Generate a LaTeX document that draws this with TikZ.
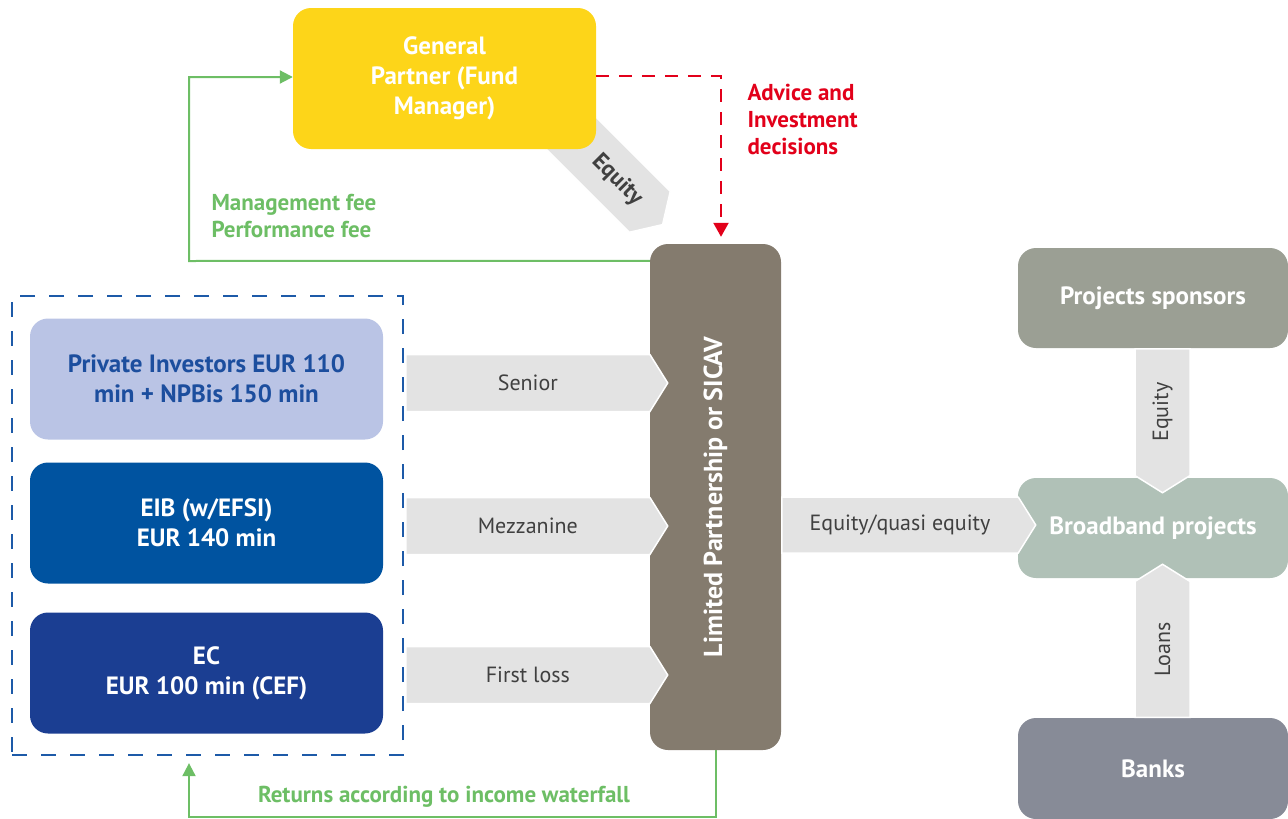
\documentclass[tikz,border=0pt]{standalone}
\usepackage{fontspec}
\setmainfont{PT Sans}
\usetikzlibrary{arrows.meta,shapes.symbols}

\definecolor{gpyellow}{HTML}{FDD519}
\definecolor{lpbrown}{HTML}{847B6E}
\definecolor{feegreen}{HTML}{6DBE65}
\definecolor{advred}{HTML}{E2001A}
\definecolor{tranchblue}{HTML}{1D5AA8}
\definecolor{privlilac}{HTML}{BAC4E5}
\definecolor{privblue}{HTML}{1C4E9E}
\definecolor{eibblue}{HTML}{0053A0}
\definecolor{ecblue}{HTML}{1B3E92}
\definecolor{bandgray}{HTML}{E3E3E3}
\definecolor{bandtext}{HTML}{404040}
\definecolor{sponsorgray}{HTML}{9B9F94}
\definecolor{bbgreen}{HTML}{B0C1B7}
\definecolor{bankgray}{HTML}{878B97}

\tikzset{
  box/.style={rounded corners=18pt,minimum width=353pt,minimum height=121pt,
    align=center,text=white,font=\fontsize{25}{30}\selectfont\bfseries,inner sep=0pt},
  band/.style={shape=signal,signal to=east,signal pointer angle=116,fill=bandgray,
    draw=white,line width=1.5pt,text=bandtext,font=\fontsize{22}{24}\selectfont,inner sep=0pt},
  feeline/.style={draw=feegreen,line width=2pt,-{Triangle[length=13pt,width=13pt]}},
  feetext/.style={text=feegreen,font=\fontsize{23}{27}\selectfont\bfseries,align=left},
  advice/.style={draw=advred,line width=2.2pt,dash pattern=on 13pt off 10pt,
    -{Triangle[length=14pt,width=15pt]}},
}

\begin{document}
\begin{tikzpicture}[x=1pt,y=-1pt]
\useasboundingbox (0,0) rectangle (1288,819);
% equity from the general partner
\node[band,rotate=-45,anchor=west,minimum width=150pt,minimum height=58pt] (gpequity) at (556,118) {};
\node[rotate=-45,text=bandtext,font=\fontsize{23}{24}\selectfont\bfseries] (gpequitytext) at (617,180) {Equity};
\node[box,fill=gpyellow,minimum width=303pt,minimum height=141pt] (gp) at (444.5,78.5)
  {General\\Partner (Fund\\Manager)};

% fund vehicle
\node[box,fill=lpbrown,minimum width=131pt,minimum height=506pt] (lp) at (715.5,497) {};
\node[rotate=90,text=white,font=\fontsize{26}{30}\selectfont\bfseries] (lptext) at (lp.center)
  {Limited Partnership or SICAV};

% investors
\node[draw=tranchblue,line width=2.3pt,dash pattern=on 15pt off 14pt,
  minimum width=391pt,minimum height=459pt] (tranches) at (207.5,525.5) {};
\node[box,fill=privlilac,text=privblue] (private) at (206.5,379)
  {Private Investors EUR 110\\min + NPBis 150 min};
\node[box,fill=eibblue] (eib) at (206.5,523) {EIB (w/EFSI)\\EUR 140 min};
\node[box,fill=ecblue] (ec) at (206.5,673) {EC\\EUR 100 min (CEF)};

\node[band,anchor=west,minimum width=262pt,minimum height=57pt] (senior) at (405,383) {Senior};
\node[band,anchor=west,minimum width=262pt,minimum height=57pt] (mezz) at (405,526) {Mezzanine};
\node[band,anchor=west,minimum width=262pt,minimum height=57pt] (firstloss) at (405,675) {First loss};

% projects
\node[box,fill=sponsorgray,minimum width=270pt,minimum height=100pt] (sponsors) at (1153,298) {Projects sponsors};
\node[box,fill=bbgreen,minimum width=270pt,minimum height=100pt] (broadband) at (1153,528) {Broadband projects};
\node[box,fill=bankgray,minimum width=270pt,minimum height=101pt] (banks) at (1153,768.5) {Banks};

\node[band,anchor=west,minimum width=254pt,minimum height=56pt] (quasi) at (781,525) {Equity/quasi equity};
\node[band,rotate=90,signal to=west,anchor=east,minimum width=144pt,minimum height=55pt] (sponsequity) at (1162.5,348) {Equity};
\node[band,rotate=90,signal to=east,anchor=west,minimum width=153pt,minimum height=55pt] (loans) at (1162.5,718) {Loans};

% fees and returns
\coordinate (feecorner) at (189,261);
\draw[feeline] ([yshift=-17pt]lp.north west) -- (feecorner) |- ([yshift=1.5pt]gp.west);
\node[feetext,anchor=west] (feetext) at (208,216) {Management fee\\Performance fee};
\draw[feeline] (lp.south) -- ++(0,67) -| ([xshift=-18.5pt,yshift=-7pt]tranches.south);
\node[feetext] (returnstext) at (444,797) {Returns according to income waterfall};

\draw[advice] ([yshift=2.5pt]gp.east) -| ([xshift=5.5pt,yshift=7pt]lp.north);
\node[feetext,text=advred,anchor=west] (advicetext) at (744,119) {Advice and\\Investment\\decisions};
\end{tikzpicture}
\end{document}
